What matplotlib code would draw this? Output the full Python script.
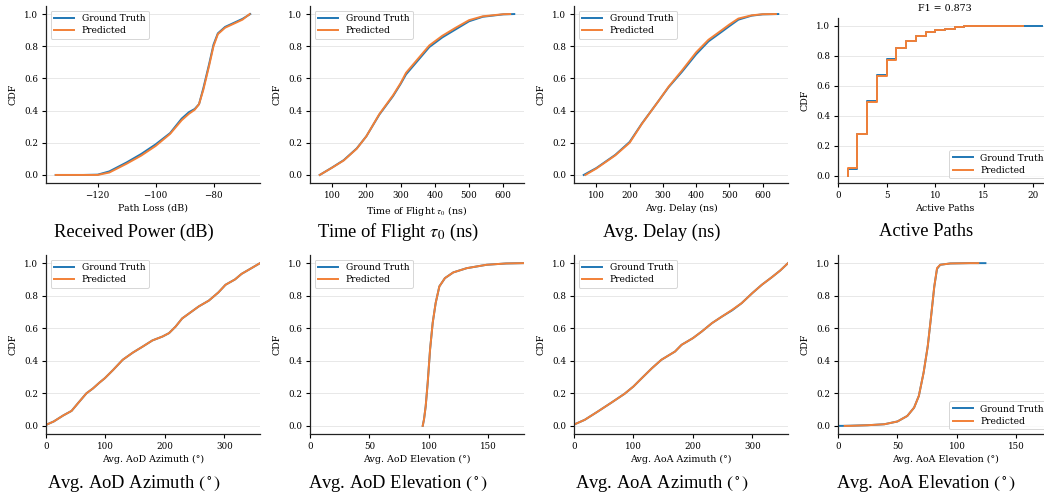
import numpy as np
import matplotlib
matplotlib.use('Agg')
import matplotlib.pyplot as plt

plt.rcParams['font.family'] = 'serif'
plt.rcParams['font.serif'] = ['DejaVu Serif']
plt.rcParams['mathtext.fontset'] = 'stix'

GT_COLOR = '#1f77b4'
PR_COLOR = '#f28037'

# Received power / path loss (dB)
pl_gt_x = [-134.5, -125, -120, -116, -110, -105, -100, -95, -91, -88.5, -86.5, -85, -83.5, -81.5, -80, -78.5, -76, -73, -70, -67.3]
pl_gt_y = [0.0, 0.0, 0.002, 0.022, 0.078, 0.13, 0.19, 0.26, 0.35, 0.39, 0.41, 0.44, 0.54, 0.69, 0.81, 0.88, 0.92, 0.945, 0.97, 1.0]
pl_pr_x = [-134.5, -125, -120, -116, -110, -105, -100, -95, -91, -88.5, -86.5, -85, -83.5, -81.5, -80, -78.5, -76, -73, -70, -67.5]
pl_pr_y = [0.0, 0.0, 0.0, 0.015, 0.07, 0.12, 0.18, 0.255, 0.34, 0.38, 0.405, 0.44, 0.53, 0.68, 0.80, 0.875, 0.915, 0.94, 0.965, 1.0]

# Time of flight (ns)
tof_gt_x = [64, 100, 134, 172, 200, 238, 278, 300, 316, 354, 384, 422, 461, 500, 540, 600, 632]
tof_gt_y = [0.0, 0.046, 0.092, 0.165, 0.24, 0.375, 0.49, 0.565, 0.625, 0.72, 0.795, 0.855, 0.905, 0.955, 0.983, 0.998, 1.0]
tof_pr_x = [64, 100, 134, 172, 200, 238, 278, 300, 316, 354, 384, 422, 461, 500, 540, 600, 620]
tof_pr_y = [0.0, 0.045, 0.09, 0.163, 0.24, 0.378, 0.495, 0.57, 0.635, 0.73, 0.805, 0.865, 0.915, 0.962, 0.986, 0.999, 1.0]

# Avg. delay (ns)
dl_gt_x = [62, 100, 157, 200, 237, 287, 317, 357, 400, 437, 477, 500, 527, 567, 600, 647]
dl_gt_y = [0.0, 0.043, 0.125, 0.205, 0.32, 0.46, 0.545, 0.64, 0.75, 0.83, 0.89, 0.925, 0.965, 0.99, 0.998, 1.0]
dl_pr_x = [67, 100, 157, 200, 237, 287, 317, 357, 400, 437, 477, 500, 527, 567, 600, 640]
dl_pr_y = [0.0, 0.04, 0.122, 0.2, 0.318, 0.46, 0.548, 0.648, 0.762, 0.84, 0.9, 0.935, 0.972, 0.992, 0.999, 1.0]

# Active paths
ap_gt_x = list(range(1, 22))
ap_gt_y = [0.045, 0.275, 0.50, 0.668, 0.78, 0.85, 0.898, 0.932, 0.956, 0.970, 0.980, 0.989, 0.994, 0.997,
           0.998, 0.999, 0.9995, 1.0, 1.0, 1.0, 1.0]
ap_pr_x = list(range(1, 20))
ap_pr_y = [0.05, 0.275, 0.49, 0.662, 0.773, 0.85, 0.897, 0.93, 0.955, 0.97, 0.98, 0.988, 0.994, 0.997,
           0.998, 0.999, 1.0, 1.0, 1.0]
f1_score = 0.873

# AoD azimuth (deg)
aod_az_x = [0, 13, 29, 43, 54, 68, 79, 90, 99, 113, 129, 146, 163, 179, 196, 207, 218, 229, 243, 257, 274, 290, 302, 318, 329, 346, 360]
aod_az_gt_y = [0.006, 0.027, 0.064, 0.092, 0.14, 0.2, 0.23, 0.266, 0.293, 0.344, 0.406, 0.45, 0.488, 0.525, 0.549, 0.57,
               0.61, 0.66, 0.697, 0.734, 0.77, 0.82, 0.867, 0.90, 0.934, 0.97, 1.0]
aod_az_pr_y = [0.006, 0.027, 0.064, 0.092, 0.14, 0.2, 0.23, 0.266, 0.293, 0.344, 0.406, 0.45, 0.488, 0.525, 0.549, 0.57,
               0.61, 0.66, 0.697, 0.734, 0.77, 0.82, 0.867, 0.90, 0.934, 0.97, 1.0]

# AoD elevation (deg)
aod_el_x = [94.8, 95.9, 97.3, 99, 101, 103.2, 105.7, 108.8, 113.5, 120.5, 131.8, 148.6, 165, 179.5]
aod_el_gt_y = [0.0, 0.04, 0.12, 0.265, 0.47, 0.633, 0.755, 0.857, 0.908, 0.943, 0.969, 0.99, 0.998, 1.0]
aod_el_pr_y = [0.0, 0.04, 0.12, 0.265, 0.47, 0.633, 0.755, 0.857, 0.908, 0.943, 0.969, 0.99, 0.998, 1.0]

# AoA azimuth (deg)
aoa_az_x = [0, 18, 40, 63, 85, 100, 114, 131, 147, 170, 181, 200, 215, 232, 249, 266, 282, 300, 316, 333, 347, 360]
aoa_az_gt_y = [0.008, 0.037, 0.088, 0.143, 0.197, 0.242, 0.293, 0.354, 0.406, 0.457, 0.498, 0.539, 0.58, 0.631,
               0.672, 0.71, 0.754, 0.816, 0.867, 0.914, 0.955, 1.0]
aoa_az_pr_y = [0.008, 0.037, 0.088, 0.143, 0.197, 0.242, 0.293, 0.354, 0.406, 0.457, 0.498, 0.539, 0.58, 0.631,
               0.672, 0.713, 0.754, 0.816, 0.867, 0.914, 0.955, 1.0]

# AoA elevation (deg)
aoa_el_gt_x = [0, 5, 25, 39, 50, 58.3, 64, 68, 72, 75.5, 78.3, 81, 83.3, 86, 94.4, 111, 124]
aoa_el_gt_y = [0.0, 0.0, 0.004, 0.01, 0.027, 0.061, 0.112, 0.184, 0.327, 0.49, 0.673, 0.857, 0.965, 0.99, 0.998, 1.0, 1.0]
aoa_el_pr_x = [5.6, 10, 25, 39, 50, 58.3, 64, 68, 72, 75.5, 78.3, 81, 83.3, 86, 94.4, 111, 118]
aoa_el_pr_y = [0.0, 0.0, 0.004, 0.01, 0.027, 0.061, 0.112, 0.184, 0.327, 0.49, 0.673, 0.857, 0.97, 0.99, 0.998, 1.0, 1.0]

xlabels = ['Path Loss (dB)', r'Time of Flight $\tau_0$ (ns)', 'Avg. Delay (ns)', 'Active Paths',
           'Avg. AoD Azimuth (°)', 'Avg. AoD Elevation (°)', 'Avg. AoA Azimuth (°)', 'Avg. AoA Elevation (°)']
captions = ['Received Power (dB)', r'Time of Flight $\tau_0$ (ns)', 'Avg. Delay (ns)', 'Active Paths',
            r'Avg. AoD Azimuth $(^\circ)$', r'Avg. AoD Elevation $(^\circ)$',
            r'Avg. AoA Azimuth $(^\circ)$', r'Avg. AoA Elevation $(^\circ)$']

W, H = 1044, 497
fig = plt.figure(figsize=(W / 100, H / 100), dpi=100)

lefts = [46, 310, 574, 838]
row_boxes = [(6, 183), (255, 434)]
axes = []
for r in range(2):
    for c in range(4):
        top, bot = row_boxes[r]
        if r == 0 and c == 3:
            top = 18
        ax = fig.add_axes([lefts[c] / W, 1 - bot / H, 214 / W, (bot - top) / H])
        axes.append(ax)

TICK_FS = 6.3
LABEL_FS = 6.8
LEG_FS = 6.6


def style(ax, xlabel, caption, c, r):
    for s in ['top', 'right']:
        ax.spines[s].set_visible(False)
    for s in ['left', 'bottom']:
        ax.spines[s].set_color('#222222')
        ax.spines[s].set_linewidth(0.9)
    ax.yaxis.grid(True, color='#e8e8e8', lw=0.7)
    ax.set_axisbelow(True)
    ax.tick_params(labelsize=TICK_FS, length=3, width=0.8, pad=2.5)
    ax.set_xlabel(xlabel, fontsize=LABEL_FS, labelpad=3)
    ax.set_ylabel('CDF', fontsize=LABEL_FS, labelpad=5)
    ax.set_yticks([0.0, 0.2, 0.4, 0.6, 0.8, 1.0])
    ax.set_ylim(-0.05, 1.05)
    cx = (lefts[c] + 88) / W
    cy = 1 - (232 if r == 0 else 484) / H
    fig.text(cx, cy, caption, ha='center', va='center', fontsize=13.3,
             family='Liberation Serif')


def legend(ax, loc):
    leg = ax.legend(loc=loc, fontsize=LEG_FS, frameon=True, fancybox=True,
                    handlelength=2.2, borderpad=0.4, labelspacing=0.35)
    leg.get_frame().set_edgecolor('#cccccc')
    leg.get_frame().set_linewidth(0.7)


series = [
    (pl_gt_x, pl_gt_y, pl_pr_x, pl_pr_y),
    (tof_gt_x, tof_gt_y, tof_pr_x, tof_pr_y),
    (dl_gt_x, dl_gt_y, dl_pr_x, dl_pr_y),
    None,
    (aod_az_x, aod_az_gt_y, aod_az_x, aod_az_pr_y),
    (aod_el_x, aod_el_gt_y, aod_el_x, aod_el_pr_y),
    (aoa_az_x, aoa_az_gt_y, aoa_az_x, aoa_az_pr_y),
    (aoa_el_gt_x, aoa_el_gt_y, aoa_el_pr_x, aoa_el_pr_y),
]

for i, ax in enumerate(axes):
    r, c = divmod(i, 4)
    if i == 3:
        ax.step([ap_gt_x[0]] + ap_gt_x, [0.0] + ap_gt_y, where='post', color=GT_COLOR, lw=1.4, label='Ground Truth')
        ax.step([ap_pr_x[0]] + ap_pr_x, [0.0] + ap_pr_y, where='post', color=PR_COLOR, lw=1.4, label='Predicted')
        ax.set_title(f'F1 = {f1_score}', fontsize=LABEL_FS, pad=5)
        ax.set_xlim(0, 22)
        ax.set_xticks([0, 5, 10, 15, 20])
    else:
        gx, gy, px, py = series[i]
        ax.plot(gx, gy, color=GT_COLOR, lw=1.4, label='Ground Truth')
        ax.plot(px, py, color=PR_COLOR, lw=1.4, label='Predicted')
    style(ax, xlabels[i], captions[i], c, r)
    legend(ax, 'lower right' if c == 3 else 'upper left')

axes[4].set_xlim(0, 360)
axes[4].set_xticks([0, 100, 200, 300])
axes[5].set_xlim(0, 180)
axes[5].set_xticks([0, 50, 100, 150])
axes[6].set_xlim(0, 360)
axes[6].set_xticks([0, 100, 200, 300])
axes[7].set_xlim(0, 180)
axes[7].set_xticks([0, 50, 100, 150])
axes[0].set_xticks([-120, -100, -80])
axes[1].set_xticks([100, 200, 300, 400, 500, 600])
axes[2].set_xticks([100, 200, 300, 400, 500, 600])

fig.savefig('out.png', dpi=100)
